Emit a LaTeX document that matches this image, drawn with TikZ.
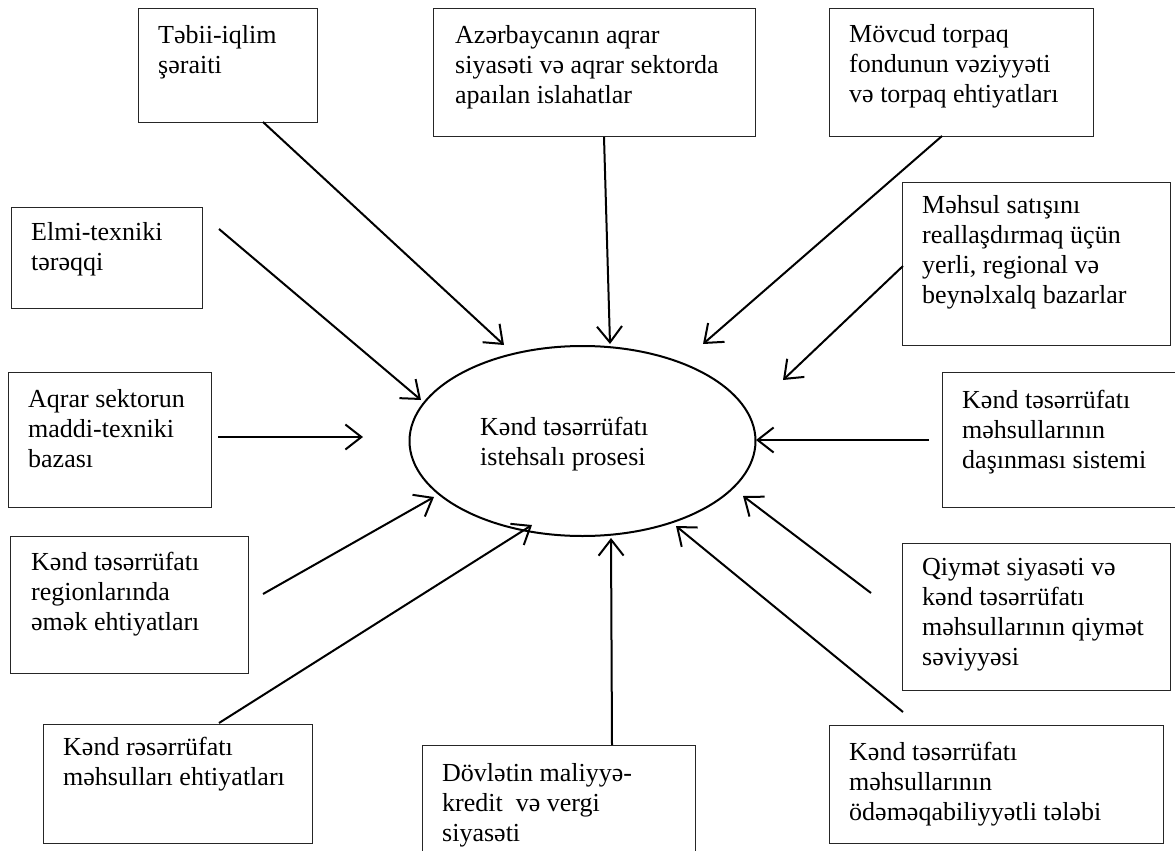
\documentclass[tikz,border=0pt]{standalone}
\usepackage{fontspec}
\setmainfont{Liberation Serif}
\usetikzlibrary{arrows.meta,shapes.geometric}
\tikzset{
  factor/.style={draw=black!85, line width=1.2pt, anchor=north west, inner sep=0pt, rectangle},
  lbl/.style={anchor=north west, inner sep=0pt, align=left, font=\fontsize{26}{30}\selectfont},
  arr/.style={line width=2pt, -{Straight Barb[length=16pt,width=25pt,line width=2pt]}},
  hub/.style={draw, ellipse, line width=2pt, inner sep=0pt, minimum width=346pt, minimum height=190pt}
}
\newcommand{\fst}{\rule{0pt}{21pt}}
\begin{document}
\begin{tikzpicture}[x=1pt,y=-1pt]
\useasboundingbox (0,0) rectangle (1175,851);
\clip (0,0) rectangle (1175,851);
\fill[white] (0,0) rectangle (1175,851);

% boxes (left, top) with sizes
\node[factor, minimum width=179pt, minimum height=114pt] (b1) at (138,8) {};
\node[lbl] (l1) at (158,22) {\fst Təbii-iqlim\\şəraiti};

\node[factor, minimum width=322pt, minimum height=128pt] (b2) at (433,8) {};
\node[lbl] (l2) at (455,22) {\fst Azərbaycanın aqrar\\siyasəti və aqrar sektorda\\apaılan islahatlar};

\node[factor, minimum width=264pt, minimum height=128pt] (b3) at (829,8) {};
\node[lbl] (l3) at (849,21) {\fst Mövcud torpaq\\fondunun vəziyyəti\\və torpaq ehtiyatları};

\node[factor, minimum width=268pt, minimum height=163pt] (b4) at (902,182) {};
\node[lbl] (l4) at (922,192) {\fst Məhsul satışını\\reallaşdırmaq üçün\\yerli, regional və\\beynəlxalq bazarlar};

\node[factor, minimum width=240pt, minimum height=135pt] (b5) at (942,372) {};
\node[lbl] (l5) at (962,387) {\fst Kənd təsərrüfatı\\məhsullarının\\daşınması sistemi};

\node[factor, minimum width=268pt, minimum height=147pt] (b6) at (902,543) {};
\node[lbl] (l6) at (922,554) {\fst Qiymət siyasəti və\\kənd təsərrüfatı\\məhsullarının qiymət\\səviyyəsi};

\node[factor, minimum width=334pt, minimum height=118pt] (b7) at (829,725) {};
\node[lbl] (l7) at (849,739) {\fst Kənd təsərrüfatı\\məhsullarının\\ödəməqabiliyyətli tələbi};

\node[factor, minimum width=273pt, minimum height=130pt] (b8) at (422,745) {};
\node[lbl] (l8) at (442,760) {\fst Dövlətin maliyyə-\\kredit\ \ və vergi\\siyasəti};

\node[factor, minimum width=269pt, minimum height=119pt] (b9) at (43,724) {};
\node[lbl] (l9) at (63,734) {\fst Kənd rəsərrüfatı\\məhsulları ehtiyatları};

\node[factor, minimum width=238pt, minimum height=137pt] (b10) at (10,536) {};
\node[lbl] (l10) at (31,549) {\fst Kənd təsərrüfatı\\regionlarında\\əmək ehtiyatları};

\node[factor, minimum width=203pt, minimum height=135pt] (b11) at (8,372) {};
\node[lbl] (l11) at (28,386) {\fst Aqrar sektorun\\maddi-texniki\\bazası};

\node[factor, minimum width=191pt, minimum height=101pt] (b12) at (11,207) {};
\node[lbl] (l12) at (31,219) {\fst Elmi-texniki\\tərəqqi};

% central ellipse
\node[hub] (hub) at (582.5,441) {};
\node[lbl] (hubt) at (480,414) {\fst Kənd təsərrüfatı\\istehsalı prosesi};

% arrow end points
\coordinate (s1) at (263,122);  \coordinate (t1) at (504,345);
\coordinate (s2) at (219,229);  \coordinate (t2) at (421,400);
\coordinate (s3) at (604,137);  \coordinate (t3) at (610,344);
\coordinate (s4) at (942,136);  \coordinate (t4) at (703,344);
\coordinate (s5) at (903,266);  \coordinate (t5) at (783,380);
\coordinate (s6) at (929,440);  \coordinate (t6) at (756,440);
\coordinate (s7) at (871,593);  \coordinate (t7) at (743,496);
\coordinate (s8) at (903,712);  \coordinate (t8) at (676,526);
\coordinate (s9) at (612,745);  \coordinate (t9) at (611,538);
\coordinate (s10) at (219,723); \coordinate (t10) at (532,525);
\coordinate (s11) at (263,594); \coordinate (t11) at (434,497);
\coordinate (s12) at (218,437); \coordinate (t12) at (363,437);

\foreach \i in {1,...,12} {\draw[arr] (s\i) -- (t\i);}
\end{tikzpicture}
\end{document}
